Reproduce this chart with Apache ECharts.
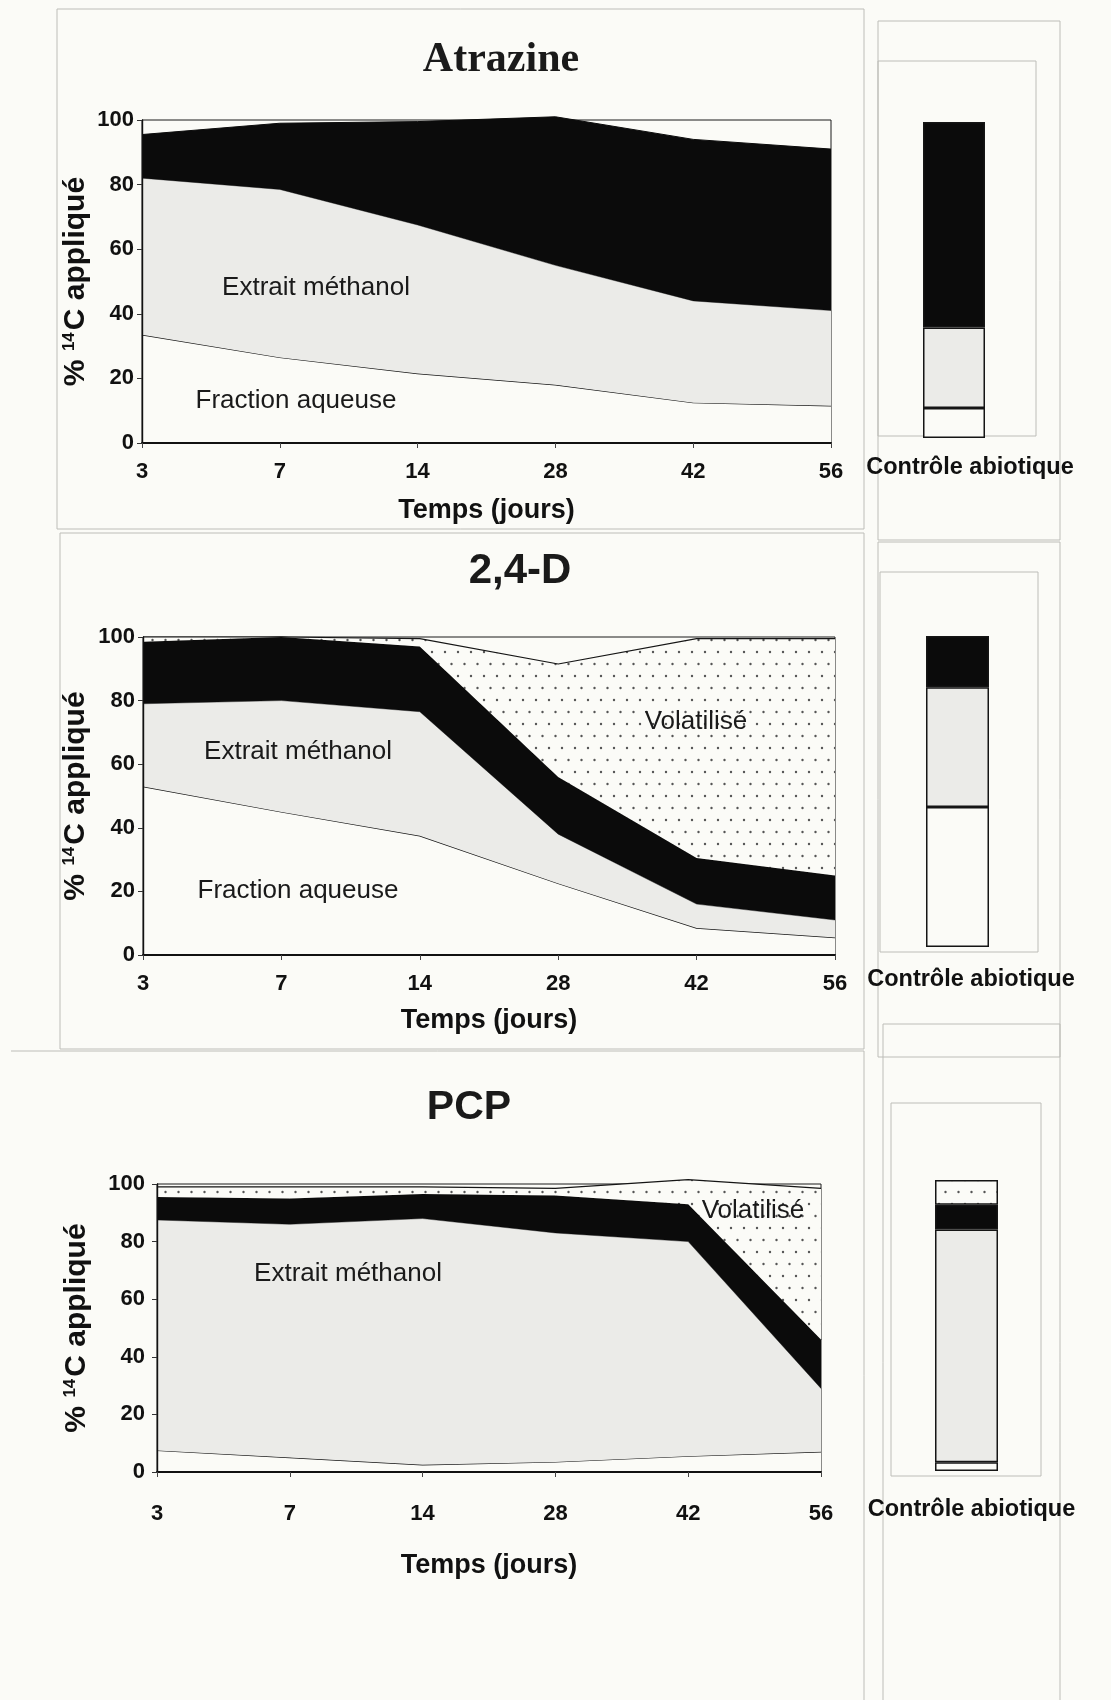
<!DOCTYPE html>
<html>
<head>
<meta charset="utf-8">
<script src="https://cdn.jsdelivr.net/npm/echarts@6/dist/echarts.min.js"></script>
<style>
  html, body { margin: 0; padding: 0; background: #fbfbf7; }
  #chart { width: 1111px; height: 1700px; }
</style>
</head>
<body>
<div id="chart"></div>
<script>
// Sampling days (x categories)
const days = ['3', '7', '14', '28', '42', '56'];

// Atrazine: % of applied 14C per fraction
const atrAqueuse   = [33.5, 26.5, 21.5, 18, 12.5, 11.5];
const atrMethanol  = [48.5, 52, 46, 37, 31.5, 29.5];
const atrNonExtr   = [13.5, 20.5, 32, 46, 50, 50];

// 2,4-D
const d24Aqueuse   = [53, 45, 37.5, 22.5, 8.5, 5.5];
const d24Methanol  = [26, 35, 39, 15.5, 7.5, 5.5];
const d24NonExtr   = [19.5, 20, 20.5, 18, 14.5, 14];
const d24Volatil   = [1.5, 0, 2.5, 35.5, 69, 74.5];

// PCP
const pcpAqueuse   = [7.5, 5, 2.5, 3.5, 5.5, 7];
const pcpMethanol  = [80, 81, 85.5, 79.5, 74.5, 22];
const pcpNonExtr   = [8, 9, 8.5, 13, 13, 17];
const pcpVolatil   = [3.5, 4, 2.5, 2.5, 8.5, 52.5];

// Abiotic controls: [aqueous, methanol, non-extractable, volatilised]
const ctrlCategory = ['Contrôle abiotique'];
const atrControl = [9.5, 25.5, 65, 0];
const d24Control = [45, 38.5, 16.5, 0];
const pcpControl = [3, 80, 8.5, 8.5];

const SANS = '"Liberation Sans", Arial, Helvetica, sans-serif';
const SERIF = '"Liberation Serif", "Times New Roman", serif';
const BG = '#fbfbf7';
const GREY = '#ebebe8';
const BLACK = '#0b0b0b';
const FRAME = '#bdbdb8';

// dotted fill for the volatilised fraction
function dotPattern() {
  const c = document.createElement('canvas');
  c.width = 13; c.height = 24;
  const g = c.getContext('2d');
  g.fillStyle = BG; g.fillRect(0, 0, 13, 24);
  g.fillStyle = '#555';
  g.beginPath(); g.arc(3, 4, 1.2, 0, Math.PI * 2); g.fill();
  g.beginPath(); g.arc(9.5, 16, 1.2, 0, Math.PI * 2); g.fill();
  return c;
}
const DOTS = { image: dotPattern(), repeat: 'repeat' };

const chart = echarts.init(document.getElementById('chart'), null, { renderer: 'canvas', width: 1111, height: 1700 });

// main panels
const mainPanels = [
  { grid: { left: 142, top: 120, width: 689, height: 323 }, yNameGap: 49, xLabelMargin: 18, xNameGap: 54, yLabelMargin: 8,
    layers: [atrAqueuse, atrMethanol, atrNonExtr] },
  { grid: { left: 143, top: 637, width: 692, height: 318 }, yNameGap: 50, xLabelMargin: 18, xNameGap: 52, yLabelMargin: 8,
    layers: [d24Aqueuse, d24Methanol, d24NonExtr, d24Volatil] },
  { grid: { left: 157, top: 1184, width: 664, height: 288 }, yNameGap: 63, xLabelMargin: 31, xNameGap: 80, yLabelMargin: 12,
    layers: [pcpAqueuse, pcpMethanol, pcpNonExtr, pcpVolatil] }
];
const ctrlPanels = [
  { grid: { left: 923, top: 122, width: 62, height: 316 }, data: atrControl, labelMargin: 18, shift: 32 },
  { grid: { left: 926, top: 636, width: 63, height: 311 }, data: d24Control, labelMargin: 21, shift: 27 },
  { grid: { left: 935, top: 1180, width: 63, height: 291 }, data: pcpControl, labelMargin: 27, shift: 10 }
];

const grids = [], xAxes = [], yAxes = [], series = [];

const layerStyles = [
  { area: BG, line: { color: '#151515', width: 1.4 } },
  { area: GREY, line: { color: '#555', width: 0.6 } },
  { area: BLACK, line: { color: BLACK, width: 1 } },
  { area: DOTS, line: { color: '#151515', width: 1.2 } }
];
const layerNames = ['Fraction aqueuse', 'Extrait méthanol', 'Non extractible', 'Volatilisé'];

mainPanels.forEach((p, i) => {
  grids.push(Object.assign({ show: true, borderColor: '#1a1a1a', borderWidth: 1, backgroundColor: 'transparent', z: 0 }, p.grid));
  xAxes.push({
    gridIndex: i, type: 'category', data: days, boundaryGap: false,
    name: 'Temps (jours)', nameLocation: 'middle', nameGap: p.xNameGap,
    nameTextStyle: { fontFamily: SANS, fontWeight: 'bold', fontSize: 27, color: '#111' },
    axisLine: { lineStyle: { color: '#111', width: 2 } },
    axisTick: { show: true, length: 5, lineStyle: { color: '#444', width: 1 } },
    axisLabel: { margin: p.xLabelMargin, fontFamily: SANS, fontWeight: 'bold', fontSize: 22, color: '#111' },
    splitLine: { show: false },
    z: 5
  });
  yAxes.push({
    gridIndex: i, type: 'value', min: 0, max: 100, interval: 20,
    name: '{a|% }{s|14}{a|C appliqué}', nameLocation: 'middle', nameGap: p.yNameGap,
    nameMoveOverlap: false,
    nameTextStyle: {
      rich: {
        a: { fontFamily: SANS, fontWeight: 'bold', fontSize: 30, color: '#111', lineHeight: 34 },
        s: { fontFamily: SANS, fontWeight: 'bold', fontSize: 17, color: '#111', lineHeight: 34, padding: [0, 2, 13, 0] }
      }
    },
    axisLine: { show: true, lineStyle: { color: '#111', width: 1.4 } },
    axisTick: { show: true, length: 5, lineStyle: { color: '#333', width: 1 } },
    axisLabel: { margin: p.yLabelMargin, fontFamily: SANS, fontWeight: 'bold', fontSize: 22, color: '#111' },
    splitLine: { show: false },
    z: 5
  });
  p.layers.forEach((vals, k) => {
    series.push({
      name: layerNames[k], type: 'line', stack: 'panel' + i,
      xAxisIndex: i, yAxisIndex: i, data: vals,
      symbol: 'none', smooth: false, clip: false,
      lineStyle: layerStyles[k].line,
      areaStyle: { color: layerStyles[k].area, opacity: 1 },
      z: 2 + k * 0.01
    });
  });
});

ctrlPanels.forEach((p, j) => {
  const gi = 3 + j;
  grids.push(Object.assign({ show: false }, p.grid));
  xAxes.push({
    gridIndex: gi, type: 'category', data: ctrlCategory,
    axisLine: { show: false }, axisTick: { show: false },
    axisLabel: { margin: p.labelMargin, padding: [0, 0, 0, p.shift], fontFamily: SANS, fontWeight: 'bold', fontSize: 23.5, color: '#111' }
  });
  yAxes.push({ gridIndex: gi, type: 'value', min: 0, max: 100, show: false });
  p.data.forEach((v, k) => {
    if (v <= 0) return;
    series.push({
      name: layerNames[k], type: 'bar', stack: 'ctrl' + j,
      xAxisIndex: gi, yAxisIndex: gi, data: [v], barWidth: '100%',
      itemStyle: { color: layerStyles[k].area, borderColor: '#151515', borderWidth: 1.5 },
      z: 3
    });
  });
});

// thin panel outlines and titles
const line = (x1, y1, x2, y2) => ({ type: 'line', shape: { x1, y1, x2, y2 }, style: { stroke: FRAME, lineWidth: 1 }, silent: true, z: -1 });
const box = (x, y, w, h) => ({ type: 'rect', shape: { x, y, width: w, height: h }, style: { fill: null, stroke: FRAME, lineWidth: 1 }, silent: true, z: -1 });
const label = (text, x, y, font) => ({ type: 'text', x, y, style: { text, font, fill: '#1a1a1a', textAlign: 'center', textVerticalAlign: 'middle' }, z: 10 });

const graphic = [
  // main panels
  box(57, 9, 807, 520),
  box(60, 533, 804, 516),
  line(11, 1051, 864, 1051),
  line(864, 1051, 864, 1700),
  // control panels
  box(878, 21, 182, 519),
  box(878, 61, 158, 375),
  box(878, 542, 182, 515),
  box(880, 572, 158, 380),
  box(883, 1024, 177, 680),
  box(891, 1103, 150, 373),
  // titles
  label('Atrazine', 501, 60, 'bold 42px ' + SERIF),
  label('2,4-D', 520, 571, 'bold 42px ' + SANS),
  label('PCP', 469, 1108, 'bold 41px ' + SANS),
  // fraction labels
  label('Extrait méthanol', 316, 288, '26px ' + SANS),
  label('Fraction aqueuse', 296, 401, '26px ' + SANS),
  label('Extrait méthanol', 298, 752, '26px ' + SANS),
  label('Fraction aqueuse', 298, 891, '26px ' + SANS),
  label('Volatilisé', 696, 722, '26px ' + SANS),
  label('Extrait méthanol', 348, 1274, '26px ' + SANS),
  label('Volatilisé', 753, 1211, '26px ' + SANS)
];

chart.setOption({
  backgroundColor: BG,
  animation: false,
  grid: grids,
  xAxis: xAxes,
  yAxis: yAxes,
  series: series,
  graphic: graphic
});
</script>
</body>
</html>
